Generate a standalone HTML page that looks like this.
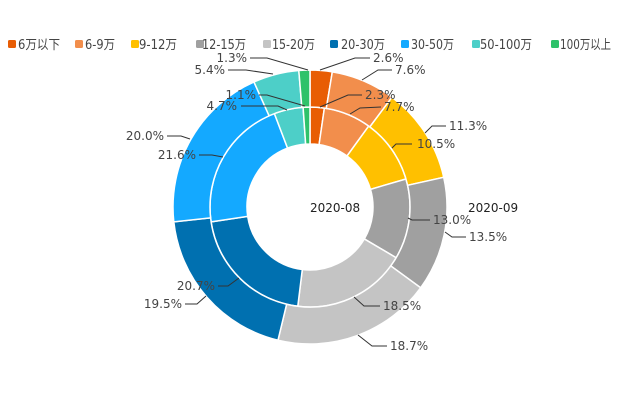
<!DOCTYPE html>
<html><head><meta charset="utf-8"><style>
html,body{margin:0;padding:0;background:#fff;width:620px;height:413px;overflow:hidden}
svg text{font-family:"DejaVu Sans","Noto Sans CJK SC",sans-serif;font-size:12px;fill:#444}
</style></head><body>
<svg id="s" width="620" height="413" viewBox="0 0 620 413" xmlns="http://www.w3.org/2000/svg">
<g id="legend"></g>
<g id="rings"></g>
<g id="labels" stroke="#333" stroke-width="1" fill="none"></g>
<text x="310" y="212" style="fill:#222">2020-08</text>
<text x="468" y="212" style="fill:#222">2020-09</text>
</svg>
<script>
const C=["#e85d04","#f28e4c","#ffc000","#a0a0a0","#c4c4c4","#0070b0","#14a9ff","#4dcfc8","#2ec26a"];
const N=["6万以下","6-9万","9-12万","12-15万","15-20万","20-30万","30-50万","50-100万","100万以上"];
const inner=[2.3,7.7,10.5,13.0,18.5,20.7,21.6,4.7,1.1];
const outer=[2.6,7.6,11.3,13.5,18.7,19.5,20.0,5.4,1.3];
const cx=310,cy=207,ns="http://www.w3.org/2000/svg";
function el(t,a,p){const e=document.createElementNS(ns,t);for(const k in a)e.setAttribute(k,a[k]);p.appendChild(e);return e;}
function ring(d,r0,r1){const s=d.reduce((a,b)=>a+b,0);let a=0;const g=document.getElementById("rings");
d.forEach((v,i)=>{const a0=a/s*2*Math.PI,a1=(a+v)/s*2*Math.PI;a+=v;
const P=(r,t)=>[cx+r*Math.sin(t),cy-r*Math.cos(t)];const L=(a1-a0)>Math.PI?1:0;
const [x0,y0]=P(r1,a0),[x1,y1]=P(r1,a1),[x2,y2]=P(r0,a1),[x3,y3]=P(r0,a0);
el("path",{d:`M${x0},${y0}A${r1},${r1} 0 ${L} 1 ${x1},${y1}L${x2},${y2}A${r0},${r0} 0 ${L} 0 ${x3},${y3}Z`,fill:C[i],stroke:"#fff","stroke-width":1.5},g);});}
ring(inner,63,100);ring(outer,100,137);
const lg=document.getElementById("legend");
const mx=[8,75,131,196,263,330,401,472,551];
const tx=[[18,42],[85,30],[139,38],[202,44],[272,43],[341,44],[411,43],[480,52],[560,51]];
mx.forEach((x,i)=>{el("rect",{x:x,y:40,width:8,height:8,rx:1.5,fill:C[i]},lg);
const t=el("text",{x:tx[i][0],y:49,textLength:tx[i][1],lengthAdjust:"spacingAndGlyphs",style:"font-size:13px"},lg);t.textContent=N[i];});
const labs=[
["1.3%",247,62,"end","250,58 267,58 308,70"],
["2.6%",373,62,"start","370,58 355,58 320,70"],
["7.6%",395,74,"start","392,70 378,70 362,80"],
["11.3%",449,130,"start","446,126 432,126 425,133"],
["13.5%",469,241,"start","466,237 452,237 445,232"],
["18.7%",390,350,"start","387,346 372,346 358,335"],
["19.5%",182,308,"end","185,304 197,304 206,296"],
["20.0%",164,140,"end","167,136 181,136 190,139"],
["5.4%",225,74,"end","228,70 246,70 273,74"],
["1.1%",256,99,"end","259,95 267,95 305,106"],
["2.3%",365,99,"start","362,95 348,95 320,107"],
["4.7%",237,110,"end","241,106 278,106 287,110"],
["7.7%",384,111,"start","381,107 360,108 350,114"],
["10.5%",417,148,"start","412,144 396,144 392,148"],
["13.0%",433,224,"start","430,220 412,220 408,218"],
["18.5%",383,310,"start","380,306 364,306 354,297"],
["20.7%",215,290,"end","218,286 228,286 239,278"],
["21.6%",196,159,"end","199,155 212,155 223,157"]];
const lb=document.getElementById("labels"),root=document.getElementById("s");
labs.forEach(l=>{el("polyline",{points:l[4]},lb);const t=el("text",{x:l[1],y:l[2],"text-anchor":l[3]},root);t.textContent=l[0];});
</script>
</body></html>
